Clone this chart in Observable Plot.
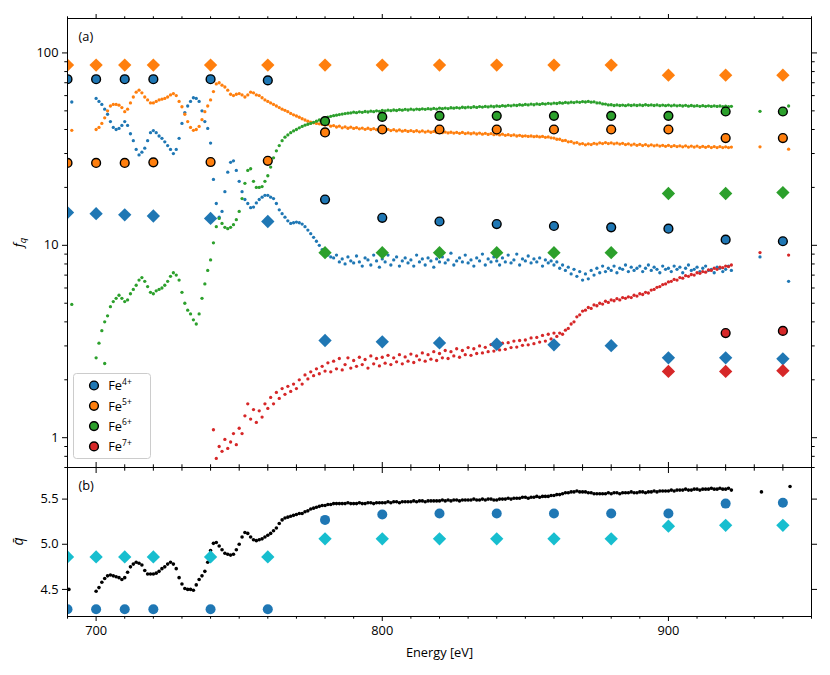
<!DOCTYPE html>
<html>
<head>
<meta charset="utf-8">
<script src="https://cdn.jsdelivr.net/npm/d3@7"></script>
<script src="https://cdn.jsdelivr.net/npm/@observablehq/plot@0.6"></script>
<style>
  body { margin: 0; background: white; }
  #wrap svg { display: block; }
</style>
</head>
<body>
<div id="wrap"></div>
<script>
// ---------------- DATA ----------------
const gridStart = 700;   // scatter data sampled every 1 eV from 700 eV
const redStart = 741;    // Fe7+ scatter starts at 741 eV

const fe4Data = [
58,56,54,51,48,44,41,40,40.5,42,
44,42,38,35,31.5,29.5,30.5,32,35,38.5,
39.5,38.5,37,36,34.5,33,31.5,30,31.5,36,
43,49,53,56,58.5,58,56,50,44,40.5,
34,22,16.5,14,15,19,24,27,27.5,24.5,
21.5,19,17.3,16.5,15.7,15.8,16.6,17.3,17.8,18.2,
18.2,17.8,17.5,16.5,15.3,14.6,14,13.4,13,13.1,
13.2,13.1,12.9,12.5,12,11.5,11,10.5,10,9.5,
9.2,8.9,8.7,8.6,8.9,8.2,8.5,8.0,8.7,8.3,
8.1,8.8,8.2,7.8,8.6,8.4,7.9,8.9,8.3,7.7,
8.5,8.2,8.9,7.9,8.4,8.7,7.8,8.3,8.6,8.1,
8.4,7.8,8.9,8.2,8.5,7.9,8.6,8.3,7.7,8.5,
8.2,8.7,8.1,8.4,9.1,7.9,8.3,8.6,8.2,8.9,
8.1,8.4,7.8,8.6,8.3,9.0,7.9,8.5,8.2,8.7,
8.3,7.9,8.6,8.2,8.9,8.1,8.4,9.0,7.9,8.5,
8.3,8.8,8.1,8.5,8.2,8.6,7.8,8.4,8.1,8.3,
7.9,8.2,7.6,7.9,7.4,7.7,7.1,7.5,6.9,7.3,
6.6,7.1,6.7,7.4,7.0,7.6,7.2,7.8,7.3,7.6,
7.4,7.8,7.2,7.6,7.5,7.9,7.3,7.7,7.4,7.6,
7.8,7.3,7.6,7.9,7.4,7.7,7.5,7.2,7.8,7.5,
7.6,7.3,7.8,7.5,7.7,7.2,7.6,7.9,7.4,7.5,
7.7,7.3,7.6,7.8,7.4,7.5,7.2,7.7,7.6,7.3,
7.5,7.8,7.4];

const fe5Data = [
40,41,43,46,50,53,54,54,53.5,52,
49.5,51,55,59,62.5,64,62,59,57,55,
55,56,57,57.5,58,59,60.5,61.5,60,56,
52.5,48,44,41,39.6,40,41.5,45,49.5,53,
57,63,69,70,68,66.5,64,61,60,61,
61.5,60.5,59,60.5,62.5,62,60.5,60,58.5,57,
56,55,54,53,52,51,50.3,49.5,48.5,47.7,
47,46.3,45.5,44.8,44.2,43.7,43.3,43,42.8,42.5,
42.2,42.4,41.6,41.9,41.2,41.6,40.8,41.3,40.6,41.1,
40.5,40.9,40.3,40.7,40.1,40.6,40.0,40.4,39.9,40.3,
40.0,39.6,40.1,39.5,39.9,39.3,39.8,39.2,39.6,39.1,
39.5,39.0,39.4,38.9,39.3,38.8,39.2,38.7,39.1,38.6,
38.9,38.5,38.8,38.4,38.7,38.3,38.6,38.2,38.6,38.1,
38.4,38.0,38.4,37.9,38.3,37.8,38.2,37.7,38.1,37.6,
37.9,37.5,37.8,37.3,37.6,37.2,37.5,37.0,37.3,36.9,
37.1,36.8,37.0,36.7,36.9,36.6,36.8,36.4,36.6,36.2,
36.1,35.6,35.6,35.0,35.1,34.5,34.6,34.0,34.2,33.6,
33.8,33.3,33.7,33.4,33.9,33.6,34.1,33.8,34.2,33.8,
34.1,33.7,34.0,33.6,33.9,33.4,33.7,33.2,33.6,33.1,
33.5,33.0,33.4,32.9,33.3,32.9,33.2,32.8,33.1,32.7,
33.1,32.6,33.0,32.6,32.9,32.5,32.9,32.4,32.8,32.4,
32.8,32.3,32.7,32.3,32.7,32.2,32.6,32.2,32.6,32.2,
32.5,32.2,32.4];

const fe6Data = [
2.6,3.1,3.6,4.0,4.3,4.8,5.1,5.3,5.5,5.3,
5.1,5.2,5.6,5.9,6.2,6.6,6.8,6.5,6.1,5.7,
5.6,5.8,5.9,6.0,6.2,6.5,6.9,7.2,7.0,6.6,
5.7,5.0,4.6,4.4,4.1,3.9,4.4,5.3,6.3,7.4,
8.4,10.3,12.5,13.8,13.0,12.4,12.2,12.4,12.8,13.6,
15.0,17.5,21,24.5,25,21.5,20,20,20.2,21.5,
23,25.5,28.5,31,33,35,36.5,37.5,38.5,39.3,
40,40.8,41.5,42.1,42.6,43,43.6,44.2,44.8,45.3,
45.8,46.3,46.8,47.2,47.5,47.8,48.1,48.4,48.6,48.8,
49.2,48.9,49.4,49.1,49.6,49.3,49.8,49.5,50.0,49.7,
50.2,49.9,50.4,50.1,50.5,50.2,50.7,50.4,50.9,50.5,
51.0,50.6,51.1,50.8,51.2,50.9,51.3,51.0,51.5,51.1,
51.6,51.3,51.7,51.4,51.9,51.6,52.0,51.7,52.2,51.9,
52.3,52.0,52.5,52.1,52.6,52.3,52.7,52.4,52.9,52.5,
53.0,52.7,53.2,52.9,53.4,53.1,53.6,53.3,53.8,53.5,
54.0,53.7,54.2,53.8,54.3,54.0,54.5,54.2,54.7,54.4,
54.9,54.6,55.1,54.8,55.3,55.0,55.5,55.2,55.7,55.4,
55.9,55.6,56.0,55.5,55.7,55.0,55.0,54.3,54.2,53.7,
53.8,53.3,53.7,53.3,53.6,53.2,53.7,53.3,53.7,53.3,
53.7,53.3,53.8,53.4,53.7,53.3,53.7,53.2,53.6,53.2,
53.6,53.1,53.5,53.1,53.4,53.0,53.4,52.9,53.3,52.9,
53.2,52.8,53.2,52.8,53.1,52.7,53.1,52.7,53.0,52.6,
52.9,52.5,52.8];

const fe7Data = [
1.1,0.78,0.9,0.85,0.98,0.88,0.95,1.05,0.92,1.12,
1.05,1.3,1.5,1.25,1.4,1.2,1.38,1.28,1.5,1.42,
1.62,1.5,1.72,1.6,1.8,1.68,1.85,1.74,1.9,1.8,
2.0,1.9,2.12,2.02,2.2,2.1,2.28,2.15,2.35,2.22,
2.45,2.2,2.5,2.28,2.58,2.25,2.4,2.6,2.3,2.52,
2.35,2.62,2.4,2.55,2.3,2.66,2.42,2.58,2.36,2.62,
2.44,2.68,2.4,2.6,2.48,2.7,2.42,2.63,2.5,2.72,
2.46,2.66,2.54,2.76,2.5,2.7,2.56,2.8,2.52,2.74,
2.6,2.84,2.58,2.8,2.66,2.9,2.62,2.84,2.7,2.94,
2.68,2.9,2.74,3.0,2.76,2.95,2.8,3.05,2.82,3.0,
2.86,3.1,2.88,3.12,2.94,3.18,2.96,3.2,3.02,3.22,
3.04,3.3,3.08,3.32,3.14,3.4,3.18,3.45,3.26,3.5,
3.36,3.5,3.45,3.62,3.7,3.9,4.0,4.25,4.35,4.55,
4.6,4.75,4.7,4.9,4.85,5.0,4.95,5.12,5.05,5.2,
5.15,5.28,5.2,5.35,5.3,5.4,5.35,5.5,5.45,5.6,
5.55,5.7,5.65,5.85,5.9,6.05,6.1,6.25,6.3,6.45,
6.5,6.65,6.6,6.8,6.75,6.95,6.9,7.05,7.0,7.2,
7.15,7.3,7.25,7.45,7.4,7.6,7.5,7.7,7.65,7.8,
7.75,7.9];

const qbarData = [
4.48,4.52,4.58,4.62,4.65,4.66,4.65,4.64,4.63,4.61,
4.63,4.69,4.75,4.78,4.80,4.79,4.77,4.71,4.67,4.67,
4.67,4.68,4.70,4.73,4.75,4.78,4.80,4.78,4.73,4.63,
4.56,4.51,4.50,4.50,4.49,4.55,4.61,4.65,4.70,4.80,
4.93,5.01,5.02,4.98,4.94,4.90,4.89,4.88,4.89,4.94,
5.00,5.08,5.13,5.12,5.08,5.05,5.04,5.05,5.06,5.08,
5.10,5.12,5.15,5.18,5.23,5.27,5.29,5.30,5.31,5.32,
5.33,5.34,5.34,5.36,5.37,5.39,5.40,5.41,5.42,5.43,
5.43,5.44,5.44,5.45,5.45,5.45,5.45,5.45,5.46,5.45,
5.45,5.45,5.46,5.45,5.45,5.46,5.46,5.45,5.46,5.46,
5.46,5.46,5.47,5.46,5.47,5.47,5.46,5.47,5.47,5.47,
5.47,5.48,5.47,5.48,5.48,5.47,5.48,5.48,5.48,5.48,
5.48,5.49,5.48,5.49,5.48,5.49,5.49,5.48,5.49,5.49,
5.49,5.49,5.50,5.49,5.49,5.50,5.49,5.50,5.50,5.49,
5.49,5.50,5.50,5.50,5.51,5.50,5.51,5.51,5.51,5.52,
5.52,5.51,5.52,5.52,5.53,5.52,5.53,5.53,5.53,5.54,
5.54,5.55,5.55,5.56,5.57,5.57,5.58,5.58,5.59,5.58,
5.58,5.58,5.57,5.57,5.56,5.56,5.56,5.56,5.56,5.57,
5.56,5.57,5.57,5.56,5.57,5.57,5.57,5.58,5.57,5.57,
5.58,5.58,5.57,5.58,5.58,5.59,5.58,5.59,5.59,5.59,
5.59,5.60,5.59,5.60,5.60,5.60,5.61,5.60,5.60,5.61,
5.61,5.60,5.61,5.61,5.61,5.62,5.61,5.61,5.62,5.61,
5.61,5.62,5.60];

// isolated scatter points outside the main sweep [energy, value]
const fe4Extra = [[691.5, 55.6], [932, 8.7], [942, 6.5]];
const fe5Extra = [[691.5, 39.6], [932, 32.5], [942, 31.6]];
const fe6Extra = [[691.5, 4.93], [703, 2.43], [932, 49.7], [942, 53]];
const fe7Extra = [[932, 9.17], [942, 8.9]];
const qbarExtra = [[690.5, 4.5], [932.5, 5.58], [942.5, 5.64]];

// model energies
const modelE = [690,700,710,720,740,760,780,800,820,840,860,880,900,920,940];
const modelE780 = [780,800,820,840,860,880,900,920,940];
// circles (with edge)
const fe4Circ = [73,73,73,73,73,72,17.3,13.9,13.3,12.9,12.6,12.4,12.2,10.7,10.5];
const fe5Circ = [26.8,26.8,26.8,27,27.1,27.5,38.6,40,40,40,40,40,40,36.1,36.1];
const fe6Circ = [44.2,46.5,47.1,47.1,47.1,47.1,47.1,49.6,49.6];
const fe7CircE = [920,940];
const fe7Circ = [3.5,3.59];
// diamonds
const fe5Diam = [86.5,86.5,86.5,86.5,86.5,86.5,86.5,86.5,86.5,86.5,86.5,86.5,76.6,76.6,76.6];
const fe4Diam = [14.8,14.6,14.4,14.2,13.8,13.3,3.2,3.15,3.11,3.06,3.04,3.01,2.6,2.6,2.57];
const fe6Diam = [9.16,9.16,9.16,9.16,9.16,9.16,18.6,18.6,18.8];
const fe7DiamE = [900,920,940];
const fe7Diam = [2.21,2.21,2.23];
// panel (b) model q-bar
const qCirc = [4.28,4.28,4.28,4.28,4.28,4.28,5.27,5.33,5.34,5.34,5.34,5.34,5.34,5.45,5.46];
const qDiam = [4.86,4.86,4.86,4.86,4.86,4.86,5.06,5.06,5.06,5.06,5.06,5.06,5.2,5.21,5.21];

// ticks
const xMajor = [700, 800, 900];
const xMinor = [690,710,720,730,740,750,760,770,780,790,810,820,830,840,850,860,870,880,890,910,920,930,940,950];
const yMajorA = [1, 10, 100];
const yMinorA = [0.7,0.8,0.9,2,3,4,5,6,7,8,9,20,30,40,50,60,70,80,90];
const yMajorB = [4.5, 5.0, 5.5];

const ions = ["Fe4+","Fe5+","Fe6+","Fe7+"];
const legendSup = ["4+","5+","6+","7+"];
const colors = ["#1f77b4","#ff7f0e","#2ca02c","#d62728"];
const cyan = "#17becf";

// ---------------- HELPERS ----------------
const seq = (start, vals) => vals.map((v, i) => ({E: start + i, v}));
const pairs = arr => arr.map(([E, v]) => ({E, v}));
const zipE = (es, vals) => vals.map((v, i) => ({E: es[i], v}));

const font = "Open Sans, Noto Sans, sans-serif";
const FS = 12.8;
const baseStyle = {fontFamily: font, fontSize: FS + "px", color: "black", background: "white", overflow: "visible"};
const xDomain = [690, 950];
const sR = 1.65;   // scatter dot radius
const cR = 4.4;    // circle marker radius
const dR = 6;      // diamond marker radius

// ---------------- PANEL (a) ----------------
const scatterA = [
  {d: seq(gridStart, fe4Data).concat(pairs(fe4Extra)), c: colors[0]},
  {d: seq(gridStart, fe5Data).concat(pairs(fe5Extra)), c: colors[1]},
  {d: seq(gridStart, fe6Data).concat(pairs(fe6Extra)), c: colors[2]},
  {d: seq(redStart, fe7Data).concat(pairs(fe7Extra)), c: colors[3]}
];

const chartA = Plot.plot({
  width: 830, height: 467,
  marginTop: 18, marginBottom: 0, marginLeft: 67, marginRight: 19,
  x: {domain: xDomain},
  y: {type: "log", domain: [0.7, 151]},
  style: baseStyle,
  marks: [
    ...scatterA.map(s => Plot.dot(s.d, {x: "E", y: "v", r: sR, fill: s.c, stroke: null, clip: true})),
    Plot.dot(zipE(modelE, fe5Diam), {x: "E", y: "v", symbol: "diamond2", r: dR, fill: colors[1], clip: true}),
    Plot.dot(zipE(modelE, fe4Diam), {x: "E", y: "v", symbol: "diamond2", r: dR, fill: colors[0], clip: true}),
    Plot.dot(zipE(modelE780, fe6Diam), {x: "E", y: "v", symbol: "diamond2", r: dR, fill: colors[2], clip: true}),
    Plot.dot(zipE(fe7DiamE, fe7Diam), {x: "E", y: "v", symbol: "diamond2", r: dR, fill: colors[3], clip: true}),
    Plot.dot(zipE(modelE, fe4Circ), {x: "E", y: "v", r: cR, fill: colors[0], stroke: "black", strokeWidth: 1.4, clip: true}),
    Plot.dot(zipE(modelE, fe5Circ), {x: "E", y: "v", r: cR, fill: colors[1], stroke: "black", strokeWidth: 1.4, clip: true}),
    Plot.dot(zipE(modelE780, fe6Circ), {x: "E", y: "v", r: cR, fill: colors[2], stroke: "black", strokeWidth: 1.4, clip: true}),
    Plot.dot(zipE(fe7CircE, fe7Circ), {x: "E", y: "v", r: cR, fill: colors[3], stroke: "black", strokeWidth: 1.4, clip: true}),
    Plot.frame({stroke: "black", strokeWidth: 1}),
    Plot.axisY(yMajorA, {anchor: "left", tickSize: 5, tickPadding: 4, tickFormat: d => String(d), label: null, fontSize: FS}),
    Plot.axisY(yMinorA, {anchor: "left", tickSize: 2.7, tickFormat: () => "", label: null}),
    Plot.axisY(yMajorA, {anchor: "right", tickSize: 5, tickFormat: () => "", label: null}),
    Plot.axisY(yMinorA, {anchor: "right", tickSize: 2.7, tickFormat: () => "", label: null}),
    Plot.axisX(xMajor, {anchor: "top", tickSize: 5, tickFormat: () => "", label: null}),
    Plot.axisX(xMinor, {anchor: "top", tickSize: 2.7, tickFormat: () => "", label: null}),
    Plot.axisX(xMajor, {anchor: "bottom", tickSize: -5, tickFormat: () => "", label: null}),
    Plot.axisX(xMinor, {anchor: "bottom", tickSize: -2.7, tickFormat: () => "", label: null}),
    Plot.text(["(a)"], {frameAnchor: "top-left", dx: 11, dy: 13, textAnchor: "start", lineAnchor: "top", fontSize: FS})
  ]
});

// ---------------- PANEL (b) ----------------
const chartB = Plot.plot({
  width: 830, height: 208,
  marginTop: 0, marginBottom: 59, marginLeft: 67, marginRight: 19,
  x: {domain: xDomain},
  y: {domain: [4.2, 5.85]},
  style: baseStyle,
  marks: [
    Plot.dot(seq(gridStart, qbarData).concat(pairs(qbarExtra)), {x: "E", y: "v", r: 1.8, fill: "black", stroke: null, clip: true}),
    Plot.dot(zipE(modelE, qDiam), {x: "E", y: "v", symbol: "diamond2", r: dR, fill: cyan, clip: true}),
    Plot.dot(zipE(modelE, qCirc), {x: "E", y: "v", r: 5, fill: colors[0], clip: true}),
    Plot.frame({stroke: "black", strokeWidth: 1}),
    Plot.axisY(yMajorB, {anchor: "left", tickSize: 5, tickPadding: 4, tickFormat: d3.format(".1f"), label: null, fontSize: FS}),
    Plot.axisY(yMajorB, {anchor: "right", tickSize: 5, tickFormat: () => "", label: null}),
    Plot.axisX(xMajor, {anchor: "bottom", tickSize: 5, tickPadding: 4, tickFormat: d => String(d), label: null, fontSize: FS}),
    Plot.axisX(xMinor, {anchor: "bottom", tickSize: 2.7, tickFormat: () => "", label: null}),
    Plot.axisX(xMajor, {anchor: "top", tickSize: -5, tickFormat: () => "", label: null}),
    Plot.axisX(xMinor, {anchor: "top", tickSize: -2.7, tickFormat: () => "", label: null}),
    Plot.text(["(b)"], {frameAnchor: "top-left", dx: 11, dy: 13, textAnchor: "start", lineAnchor: "top", fontSize: FS}),
    Plot.text(["Energy [eV]"], {frameAnchor: "bottom", dy: 36, lineAnchor: "middle", fontSize: FS})
  ]
});

// ---------------- LABELS & LEGEND ----------------
const sa = d3.select(chartA);
const fl = sa.append("text")
  .attr("transform", "translate(23,242.5) rotate(-90)")
  .attr("text-anchor", "middle")
  .attr("font-family", font).attr("font-size", 13).attr("fill", "black");
fl.append("tspan").attr("font-style", "italic").text("f");
fl.append("tspan").attr("font-style", "italic").attr("font-size", 9.5).attr("dy", 3).text("q");

const sb = d3.select(chartB);
sb.append("text")
  .attr("transform", "translate(23,74.5) rotate(-90)")
  .attr("text-anchor", "middle")
  .attr("font-family", font).attr("font-size", 14).attr("font-style", "italic").attr("fill", "black")
  .text("q\u0304");

const lg = sa.append("g");
lg.append("rect").attr("x", 73.5).attr("y", 373.5).attr("width", 77).attr("height", 85).attr("rx", 3)
  .attr("fill", "white").attr("fill-opacity", 0.8).attr("stroke", "#cccccc").attr("stroke-width", 1);
ions.forEach((name, i) => {
  const cy = 385.5 + i * 20.3;
  lg.append("circle").attr("cx", 94).attr("cy", cy).attr("r", cR)
    .attr("fill", colors[i]).attr("stroke", "black").attr("stroke-width", 1.4);
  const t = lg.append("text").attr("x", 120).attr("y", cy + 4.8)
    .attr("font-family", font).attr("font-size", FS).attr("fill", "black");
  t.append("tspan").text("Fe");
  t.append("tspan").attr("font-size", 8.5).attr("dy", -5.5).text(legendSup[i]);
});

const wrap = document.getElementById("wrap");
wrap.appendChild(chartA);
wrap.appendChild(chartB);
</script>
</body>
</html>
